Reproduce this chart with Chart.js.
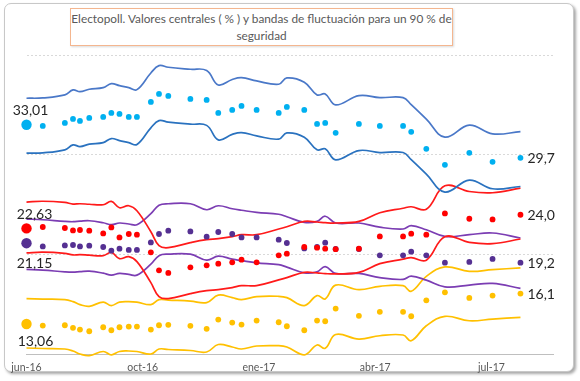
<!DOCTYPE html>
<html>
<head>
<meta charset="utf-8">
<script src="https://cdn.jsdelivr.net/npm/chart.js@4.4.1/dist/chart.umd.min.js"></script>
<style>
    html, body { margin: 0; padding: 0; background: #fff; }
    #wrap { position: relative; width: 580px; height: 381px; overflow: hidden; }
    #frame {
        position: absolute; left: 4px; top: 3px; width: 568px; height: 367px;
        border: 1px solid #c8c8c8; border-radius: 7px;
        box-shadow: 2px 2px 3px rgba(0,0,0,0.35);
        background: #fff;
    }
    #title {
        position: absolute; left: 70px; top: 8px; width: 381px; height: 35px;
        border: 1px solid #f4b68f;
        box-shadow: 1px 1px 2px rgba(0,0,0,0.15);
        font-family: Lato, sans-serif; font-size: 11.8px; line-height: 17px;
        color: #595959; text-align: center; padding-top: 1px; white-space: nowrap;
    }
    canvas { position: absolute; left: 0; top: 0; }
</style>
</head>
<body>
<div id="wrap">
    <div id="frame"></div>
    <div id="title">Electopoll. Valores centrales ( % ) y bandas de fluctuación para un 90 % de<br>seguridad</div>
    <canvas id="chart" width="580" height="381"></canvas>
</div>
<script>
// Days since the 26-J 2016 election (first point = election result)
const pollDays = [0, 14, 33, 40, 46, 54, 66, 73, 80, 88, 95, 107, 114, 122, 141, 155, 165, 177, 185, 198,
    217, 224, 239, 250, 257, 266, 286, 304, 324, 331, 344, 360, 381, 401, 425];

const tickDays = [0, 100, 200, 300, 400];
const tickLabels = ['jun-16', 'oct-16', 'ene-17', 'abr-17', 'jul-17'];

// PP
const ppVotes = [33.01, 32.9, 33.2, 33.6, 33.4, 33.7, 33.8, 34.2, 34.1, 33.8, 33.8, 35.3, 36.1, 35.9, 35.6, 35.5, 34.2, 34.5, 34.9, 34.5,
    34.2, 34.8, 34.5, 33.1, 33.2, 32.2, 33.1, 32.9, 32.9, 32.3, 30.6, 29.0, 30.2, 29.3, 29.7];
const ppUpper = [35.67, 35.7, 36.0, 36.5, 36.33, 36.57, 36.73, 37.13, 36.93, 36.73, 36.53, 38.2, 38.93, 38.77, 38.57, 38.45, 37.0, 37.55, 37.73, 37.4,
    37.07, 37.7, 37.27, 36.0, 36.1, 35.0, 35.93, 35.73, 35.73, 35.02, 33.57, 31.77, 32.97, 32.1, 32.33];
const ppLower = [30.17, 30.2, 30.5, 31.0, 30.83, 31.07, 31.23, 31.63, 31.43, 31.23, 31.03, 32.7, 33.43, 33.27, 33.07, 32.95, 31.5, 32.05, 32.23, 31.9,
    31.57, 32.2, 31.77, 30.5, 30.6, 29.5, 30.43, 30.23, 30.23, 29.52, 28.07, 26.27, 27.47, 26.6, 26.83];

// PSOE
const psoeVotes = [22.63, 22.77, 22.67, 22.43, 22.47, 22.4, 22.13, 22.73, 21.73, 22.07, 22.0, 20.23, 18.43, 18.17, 18.73, 18.93, 19.1, 19.23, 19.5, 19.23,
    19.93, 20.1, 20.77, 20.7, 20.6, 20.55, 20.6, 21.83, 21.83, 22.1, 22.0, 24.13, 23.6, 23.53, 24.0];
const psoeUpper = [25.27, 25.35, 25.23, 25.07, 25.1, 25.05, 25.0, 25.33, 24.7, 24.9, 24.4, 22.3, 20.9, 20.7, 21.2, 21.5, 21.6, 21.8, 22.0, 22.0,
    22.57, 22.8, 23.33, 23.27, 23.2, 23.17, 23.33, 24.2, 24.65, 24.8, 24.55, 26.9, 26.33, 26.2, 26.67];
const psoeLower = [20.17, 20.25, 20.13, 19.97, 20.0, 19.95, 19.9, 20.23, 19.6, 19.8, 19.3, 17.2, 15.8, 15.6, 16.1, 16.4, 16.5, 16.7, 16.9, 16.9,
    17.47, 17.7, 18.23, 18.17, 18.1, 18.07, 18.23, 19.1, 19.55, 19.7, 19.45, 21.8, 21.23, 21.1, 21.57];

// Unidos Podemos
const upVotes = [21.15, 20.83, 20.93, 20.97, 20.83, 20.9, 20.77, 20.4, 20.6, 20.47, 20.47, 21.23, 22.07, 22.4, 22.33, 21.8, 22.27, 22.07, 21.73, 21.73,
    21.5, 21.17, 20.63, 20.77, 21.2, 20.57, 20.57, 19.93, 19.93, 20.3, 19.93, 19.2, 19.27, 19.57, 19.2];
const upUpper = [23.57, 23.5, 23.33, 23.3, 23.35, 23.4, 23.2, 23.0, 23.17, 23.07, 23.0, 24.1, 24.95, 25.1, 25.1, 24.5, 24.9, 24.6, 24.45, 24.23,
    24.05, 23.8, 23.23, 23.33, 23.85, 23.17, 23.17, 22.75, 22.57, 22.9, 22.5, 21.83, 22.0, 22.17, 21.67];
const upLower = [18.52, 18.45, 18.28, 18.25, 18.3, 18.35, 18.15, 17.95, 18.12, 18.02, 17.95, 19.05, 19.9, 20.05, 20.05, 19.45, 19.85, 19.55, 19.4, 19.18,
    19.0, 18.75, 18.18, 18.28, 18.8, 18.12, 18.12, 17.7, 17.52, 17.85, 17.45, 16.78, 16.95, 17.12, 16.62];

// Ciudadanos
const csVotes = [13.06, 12.9, 12.93, 12.67, 12.5, 12.33, 12.73, 12.43, 12.73, 12.8, 12.8, 12.5, 12.93, 12.97, 12.87, 12.57, 13.5, 13.2, 13.0, 13.4,
    13.23, 12.83, 12.43, 13.4, 13.33, 14.6, 13.87, 14.27, 14.27, 13.83, 15.43, 16.23, 15.67, 15.9, 16.1];
const csUpper = [15.6, 15.55, 15.5, 15.3, 15.0, 14.83, 15.25, 14.9, 15.25, 15.3, 15.25, 15.0, 15.5, 15.45, 15.35, 15.2, 15.95, 15.7, 15.5, 15.8,
    15.83, 15.7, 14.9, 15.9, 15.57, 16.95, 16.5, 16.83, 16.9, 16.33, 17.83, 18.77, 18.33, 18.5, 18.67];
const csLower = [10.65, 10.6, 10.55, 10.35, 10.05, 9.88, 10.3, 9.95, 10.3, 10.35, 10.3, 10.05, 10.55, 10.5, 10.4, 10.25, 11.0, 10.75, 10.55, 10.85,
    10.88, 10.75, 9.95, 10.95, 10.62, 12.0, 11.55, 11.88, 11.95, 11.38, 12.88, 13.82, 13.38, 13.55, 13.72];

const FONT = 'Lato, sans-serif';

function toPoints(values) {
    return values.map((v, i) => ({ x: pollDays[i], y: v }));
}

function bandLine(values, color) {
    return {
        data: toPoints(values),
        borderColor: color,
        borderWidth: 1.7,
        pointRadius: 0,
        tension: 0.4,
        fill: false,
        clip: 4,
        order: 2
    };
}

// startOffset: where the election value label sits relative to the first dot
function dots(values, color, startOffset) {
    return {
        data: toPoints(values),
        showLine: false,
        backgroundColor: color,
        borderWidth: 0,
        pointRadius: values.map((v, i) => i === 0 ? 5.2 : 2.9),
        clip: false,
        order: 1,
        isDots: true,
        startOffset
    };
}

const valueLabels = {
    id: 'valueLabels',
    afterDatasetsDraw(chart) {
        const ctx = chart.ctx;
        ctx.save();
        ctx.font = '14px ' + FONT;
        ctx.fillStyle = '#262626';
        ctx.textBaseline = 'middle';
        chart.data.datasets.forEach((ds, i) => {
            if (!ds.isDots) return;
            const pts = chart.getDatasetMeta(i).data;
            const first = pts[0], last = pts[pts.length - 1];
            ctx.textAlign = 'center';
            ctx.fillText(ds.data[0].y.toFixed(2).replace('.', ','),
                first.x + ds.startOffset[0], first.y + ds.startOffset[1]);
            ctx.textAlign = 'left';
            ctx.fillText(ds.data[ds.data.length - 1].y.toFixed(1).replace('.', ','), last.x + 7, last.y + 1);
        });
        ctx.restore();
    }
};

new Chart(document.getElementById('chart'), {
    type: 'line',
    data: {
        datasets: [
            bandLine(ppUpper, '#4a78c8'),
            bandLine(ppLower, '#2a72bf'),
            bandLine(psoeUpper, '#ff1a1a'),
            bandLine(psoeLower, '#ff1a1a'),
            bandLine(upUpper, '#7b3db3'),
            bandLine(upLower, '#7b3db3'),
            bandLine(csUpper, '#ffc000'),
            bandLine(csLower, '#ffc000'),
            dots(ppVotes, '#00b0f0', [4, -14]),
            dots(psoeVotes, '#ff0000', [8, -14]),
            dots(upVotes, '#553092', [8, 20]),
            dots(csVotes, '#ffc000', [9, 18])
        ]
    },
    options: {
        responsive: false,
        animation: false,
        events: [],
        layout: { padding: { left: 26.5, right: 27, top: 55, bottom: 6.5 } },
        plugins: { legend: { display: false }, tooltip: { enabled: false } },
        scales: {
            x: {
                type: 'linear',
                min: 0,
                max: 453,
                afterBuildTicks: scale => { scale.ticks = tickDays.map(v => ({ value: v })); },
                afterFit: scale => { scale.height = 20; },
                grid: { display: false, drawTicks: false },
                border: { display: true, color: '#bfbfbf', width: 1 },
                ticks: {
                    padding: 7,
                    maxRotation: 0,
                    autoSkip: false,
                    color: '#595959',
                    font: { family: FONT, size: 10.5 },
                    callback: value => tickLabels[tickDays.indexOf(value)] || ''
                }
            },
            y: {
                min: 10,
                max: 40,
                afterFit: scale => { scale.width = 0; },
                ticks: { display: false, stepSize: 10 },
                border: { display: false, dash: [2, 2] },
                grid: {
                    drawTicks: false,
                    color: ctx => ctx.tick.value === 10 ? 'rgba(0,0,0,0)' : '#d9d9d9',
                    lineWidth: 1
                }
            }
        }
    },
    plugins: [valueLabels]
});
</script>
</body>
</html>
